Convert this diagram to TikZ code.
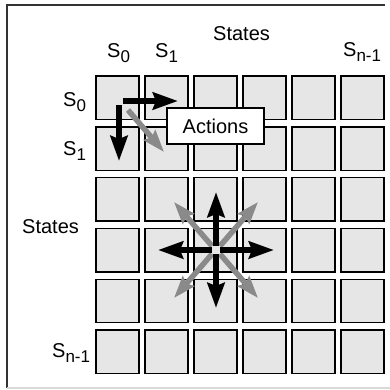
\documentclass[tikz,border=0pt]{standalone}
\usepackage{fontspec}
\setmainfont{Liberation Sans}
\usetikzlibrary{arrows.meta,calc}
\definecolor{cellgray}{HTML}{E6E6E7}
\definecolor{arrgray}{HTML}{8A8A8A}
\definecolor{framegray}{HTML}{333333}
\tikzset{
cell/.style={draw=black,line width=1.4pt,fill=cellgray,minimum width=43pt,minimum height=43.5pt,inner sep=0pt},
lbl/.style={anchor=base west,inner sep=0pt,font=\fontsize{20}{20}\selectfont},
bigarrow/.style={line width=6pt,-{Stealth[length=25pt,width=17pt,inset=3pt]}},
greyarrow/.style={arrgray,line width=5.5pt,-{Stealth[length=22pt,width=15pt,inset=3pt]}},
actbox/.style={draw,line width=1.2pt,fill=white,minimum width=97pt,minimum height=36pt,inner sep=0pt,font=\fontsize{20}{20}\selectfont}
}
\newcommand{\sidx}[1]{S\raisebox{-5pt}{\fontsize{17}{17}\selectfont #1}}
\begin{document}
\begin{tikzpicture}[x=1pt,y=-1pt]
\useasboundingbox (0,0) rectangle (390,389);
\draw[framegray,line width=1.5pt] (385,5)--(7,5)--(7,388);
\draw[black!15,line width=1.2pt] (7,388)--(390,388);
\foreach \i in {0,...,5}
  \foreach \j in {0,...,5}
    \node[cell] (c-\i-\j) at (117.5+49*\i,97.75+50.8*\j) {};
\node[lbl] (toplbl) at (213,40) {States};
\node[lbl] (col0) at (107,57) {\sidx{0}};
\node[lbl] (col1) at (155,57) {\sidx{1}};
\node[lbl] (coln) at (343,56) {\sidx{n-1}};
\node[lbl] (row0) at (63,106) {\sidx{0}};
\node[lbl] (row1) at (63,155) {\sidx{1}};
\node[lbl] (leftlbl) at (22,233) {States};
\node[lbl] (rown) at (52,357) {\sidx{n-1}};
\coordinate (r0) at (123,101);
\coordinate (r1) at (178,101);
\coordinate (d0) at (119,105);
\coordinate (d1) at (119,161);
\coordinate (g0) at (128,110);
\coordinate (g1) at (164,152);
\draw[greyarrow] (g0)--(g1);
\draw[bigarrow] (r0)--(r1);
\draw[bigarrow] (d0)--(d1);
\node[actbox] (act) at (215.5,126) {Actions};
\coordinate (ctr) at (216,250);
\foreach \n/\dx/\dy in {ne/1/-1,nw/-1/-1,se/1/1,sw/-1/1}{
  \coordinate (\n-in) at ($(ctr)+(4*\dx,4*\dy)$);
  \coordinate (\n-out) at ($(ctr)+(42*\dx,48*\dy)$);
  \draw[greyarrow] (\n-in)--(\n-out);
}
\foreach \n/\dx/\dy in {e/1/0,w/-1/0,n/0/-1,s/0/1}{
  \coordinate (\n-in) at ($(ctr)+(4*\dx,4*\dy)$);
  \coordinate (\n-out) at ($(ctr)+(58*\dx,58*\dy)$);
  \draw[bigarrow] (\n-in)--(\n-out);
}
\end{tikzpicture}
\end{document}
